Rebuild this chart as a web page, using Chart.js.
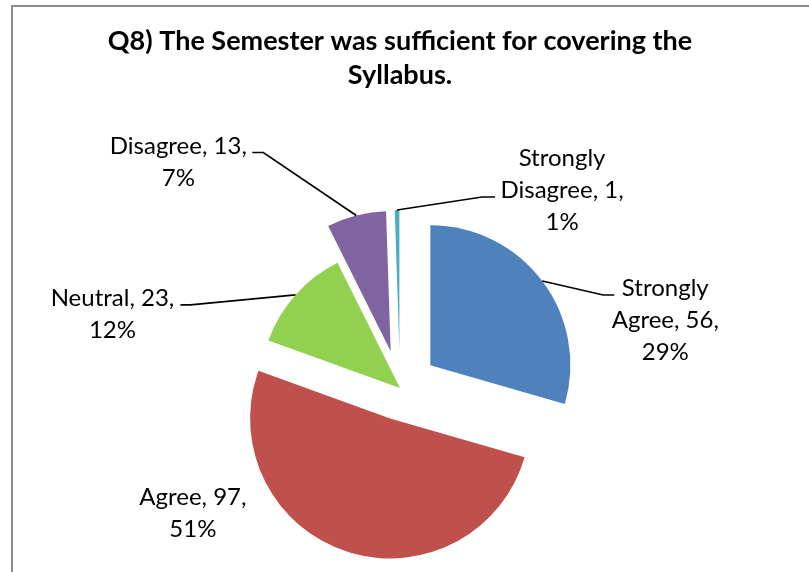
<!DOCTYPE html>
<html>
<head>
<meta charset="utf-8">
<script src="https://cdn.jsdelivr.net/npm/chart.js@4"></script>
<style>
  html, body { margin: 0; padding: 0; background: #fff; overflow: hidden; }
  #chart { position: absolute; left: 0; top: 0; }
  #frame {
    position: absolute; left: 11px; top: 5px; width: 900px; height: 700px;
    border-left: 2px solid #8c8c8c; border-top: 2px solid #8c8c8c;
    pointer-events: none;
  }
</style>
</head>
<body>
<canvas id="chart" width="809" height="680"></canvas>
<div id="frame"></div>
<script>
const categories = ["Strongly Agree", "Agree", "Neutral", "Disagree", "Strongly Disagree"];
const values = [56, 97, 23, 13, 1];
const colors = ["#4f81bd", "#c0504d", "#92d050", "#8064a2", "#4bacc6"];
const explode = [38, 32, 0, 38, 38];

// where each label sits, relative to the outer edge of its slice
const placement = [
  { text: [123, 7], leader: [72, 14], stub: -11 },
  { text: [-154, -54], leader: null },
  { text: [-183, 3], leader: [-115, 10], stub: 10 },
  { text: [-178, -69], leader: [-104, -63], stub: 11 },
  { text: [165, -52], leader: [98, -13], stub: -13 }
];

function labelLines(i) {
  const total = values.reduce((a, b) => a + b, 0);
  const pct = Math.round(values[i] / total * 100);
  const words = categories[i].split(" ");
  const last = words.pop();
  return [...words, last + ", " + values[i] + ",", pct + "%"];
}

function midAngle(arc) {
  const { startAngle, endAngle } = arc.getProps(["startAngle", "endAngle"], true);
  return (startAngle + endAngle) / 2;
}

// pull each slice out along its middle angle, like Excel's exploded pie
const explodedSlices = {
  id: "explodedSlices",
  beforeDatasetDraw(chart, args) {
    const ctx = chart.ctx;
    args.meta.data.forEach((arc, i) => {
      const mid = midAngle(arc);
      ctx.save();
      ctx.translate(Math.cos(mid) * explode[i], Math.sin(mid) * explode[i]);
      arc.draw(ctx, chart.chartArea);
      ctx.restore();
    });
    return false;
  }
};

const sliceLabels = {
  id: "sliceLabels",
  afterDatasetsDraw(chart) {
    const ctx = chart.ctx;
    const meta = chart.getDatasetMeta(0);
    ctx.save();
    ctx.font = "24px Lato";
    ctx.fillStyle = "#000";
    ctx.strokeStyle = "#000";
    ctx.lineWidth = 1.6;
    ctx.textAlign = "center";
    ctx.textBaseline = "middle";
    meta.data.forEach((arc, i) => {
      const { x, y, outerRadius } = arc.getProps(["x", "y", "outerRadius"], true);
      const mid = midAngle(arc);
      const r = outerRadius + explode[i];
      const ex = x + Math.cos(mid) * r;
      const ey = y + Math.sin(mid) * r;
      const p = placement[i];

      if (p.leader) {
        const lx = ex + p.leader[0];
        const ly = ey + p.leader[1];
        ctx.beginPath();
        ctx.moveTo(lx, ly);
        ctx.lineTo(lx + p.stub, ly);
        ctx.lineTo(ex, ey);
        ctx.stroke();
      }

      labelLines(i).forEach((line, k) => {
        ctx.fillText(line, ex + p.text[0], ey + p.text[1] + k * 32);
      });
    });
    ctx.restore();
  }
};

new Chart(document.getElementById("chart"), {
  type: "pie",
  data: {
    labels: categories,
    datasets: [{
      data: values,
      backgroundColor: colors,
      borderWidth: 0
    }]
  },
  options: {
    responsive: false,
    animation: false,
    radius: 140,
    layout: { padding: { left: 0, right: 9, top: 0, bottom: 0 } },
    plugins: {
      legend: { display: false },
      tooltip: { enabled: false },
      title: {
        display: true,
        text: ["Q8) The Semester was sufficient for covering the", "Syllabus."],
        color: "#000",
        font: { family: "Lato", size: 27, weight: "bold", lineHeight: 1.26 },
        padding: { top: 24, bottom: 4 }
      }
    }
  },
  plugins: [explodedSlices, sliceLabels]
});
</script>
</body>
</html>
